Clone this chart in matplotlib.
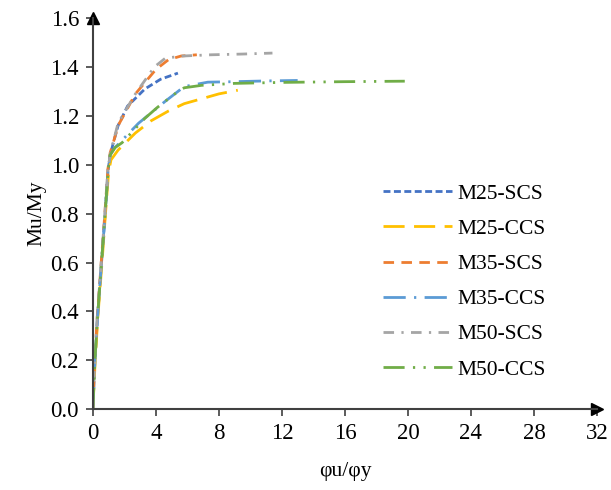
import matplotlib
matplotlib.use("Agg")
import matplotlib.pyplot as plt

plt.rcParams['font.family'] = ['Liberation Serif', 'DejaVu Serif']

# curvature ductility (phi_u/phi_y) vs moment ratio (Mu/My)
m25_scs_x = [0, 0.13, 0.3, 0.55, 0.78, 0.97, 1.1, 1.3, 1.6, 2.2, 3.3, 4.3, 5.4]
m25_scs_y = [0, 0.2, 0.38, 0.6, 0.8, 0.98, 1.04, 1.09, 1.16, 1.24, 1.31, 1.35, 1.375]

m25_ccs_x = [0, 0.15, 0.32, 0.58, 0.8, 1.0, 1.15, 1.6, 2.7, 3.7, 4.8, 5.8, 6.9, 8.0, 9.2]
m25_ccs_y = [0, 0.2, 0.38, 0.6, 0.8, 0.97, 1.02, 1.06, 1.13, 1.18, 1.22, 1.25, 1.27, 1.29, 1.305]

m35_scs_x = [0, 0.12, 0.28, 0.53, 0.76, 0.95, 1.1, 1.25, 1.6, 2.7, 4.0, 4.8, 5.6, 6.6]
m35_scs_y = [0, 0.2, 0.38, 0.6, 0.8, 0.98, 1.05, 1.08, 1.16, 1.29, 1.39, 1.43, 1.445, 1.45]

m35_ccs_x = [0, 0.13, 0.3, 0.55, 0.78, 0.97, 1.1, 1.4, 2.0, 2.9, 4.6, 5.8, 7.3, 9.0, 11.0, 13.0]
m35_ccs_y = [0, 0.2, 0.38, 0.6, 0.8, 0.98, 1.04, 1.07, 1.11, 1.17, 1.26, 1.32, 1.338, 1.34, 1.343, 1.345]

m50_scs_x = [0, 0.12, 0.28, 0.53, 0.76, 0.95, 1.1, 1.2, 1.6, 2.7, 3.9, 4.6, 5.7, 7.5, 9.5, 11.4]
m50_scs_y = [0, 0.2, 0.38, 0.6, 0.8, 0.98, 1.04, 1.07, 1.17, 1.29, 1.40, 1.436, 1.445, 1.45, 1.453, 1.457]

m50_ccs_x = [0, 0.13, 0.3, 0.55, 0.78, 0.97, 1.1, 1.4, 1.85, 3.3, 4.1, 5.2, 5.8, 6.9, 9.0, 12.0, 16.0, 19.8]
m50_ccs_y = [0, 0.2, 0.38, 0.6, 0.8, 0.98, 1.04, 1.07, 1.09, 1.19, 1.235, 1.29, 1.315, 1.325, 1.333, 1.337, 1.34, 1.342]

fig = plt.figure(figsize=(6.11, 4.90), dpi=100)
ax = fig.add_axes([0.152, 0.165, 0.825, 0.798])

lw = 2.0
ax.plot(m25_scs_x, m25_scs_y, color='#4472C4', lw=lw, dashes=(2.5, 1.25), label='M25-SCS')
ax.plot(m25_ccs_x, m25_ccs_y, color='#FFC000', lw=lw, dashes=(7.6, 3.4), label='M25-CCS')
ax.plot(m35_scs_x, m35_scs_y, color='#ED7D31', lw=lw, dashes=(3.8, 2.65), label='M35-SCS')
ax.plot(m35_ccs_x, m35_ccs_y, color='#5B9BD5', lw=lw, dashes=(8, 3, 0.8, 3), label='M35-CCS')
ax.plot(m50_scs_x, m50_scs_y, color='#A5A5A5', lw=lw, dashes=(3.8, 2.65, 0.8, 2.65), label='M50-SCS')
ax.plot(m50_ccs_x, m50_ccs_y, color='#70AD47', lw=lw, dashes=(7.6, 3, 0.8, 3, 0.8, 3), label='M50-CCS')

ax.set_xlim(0, 32)
ax.set_ylim(0, 1.6)
ax.set_xticks(range(0, 33, 4))
ax.set_yticks([0.0, 0.2, 0.4, 0.6, 0.8, 1.0, 1.2, 1.4, 1.6])
ax.set_yticklabels(['0.0', '0.2', '0.4', '0.6', '0.8', '1.0', '1.2', '1.4', '1.6'])

for s in ['top', 'right']:
    ax.spines[s].set_visible(False)
for s in ['left', 'bottom']:
    ax.spines[s].set_color('#404040')
    ax.spines[s].set_linewidth(1.5)
ax.tick_params(direction='out', length=5, width=1.2, color='#404040', labelsize=16.5, pad=5)

# arrow heads at the axis ends
ax.plot(1, 0, '>', color='black', ms=8, transform=ax.transAxes, clip_on=False)
ax.plot(0, 1, '^', color='black', ms=8, transform=ax.transAxes, clip_on=False)

ax.set_xlabel('φu/φy', fontsize=15.5, labelpad=13)
ax.set_ylabel('Mu/My', fontsize=15.5, labelpad=3)

ax.legend(loc='center left', bbox_to_anchor=(0.575, 0.326), frameon=False, fontsize=15.5,
          handlelength=3.2, labelspacing=0.7, handletextpad=0.28,
          borderaxespad=0, borderpad=0)

fig.savefig('out.png', dpi=100)
